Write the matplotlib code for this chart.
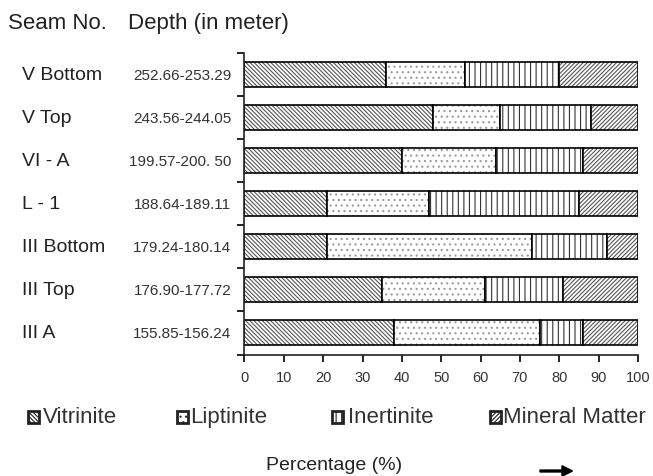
"""
Maceral composition of coal seams - stacked horizontal bars with hatch fills.
"""

import numpy as np
import matplotlib
matplotlib.use("Agg")
import matplotlib.pyplot as plt
import matplotlib.transforms as mtransforms
from matplotlib.patches import Rectangle, FancyArrow

plt.rcParams["font.family"] = ["Liberation Sans", "DejaVu Sans"]
plt.rcParams["hatch.linewidth"] = 0.8

SEAMS = ["V Bottom", "V Top", "VI - A", "L - 1", "III Bottom", "III Top", "III A"]
DEPTHS = ["252.66-253.29", "243.56-244.05", "199.57-200. 50", "188.64-189.11",
          "179.24-180.14", "176.90-177.72", "155.85-156.24"]

VITRINITE = [36, 48, 40, 21, 21, 35, 38]
LIPTINITE = [20, 17, 24, 26, 52, 26, 37]
INERTINITE = [24, 23, 22, 38, 19, 20, 11]
MINERAL = [20, 12, 14, 15, 8, 19, 14]

COMPONENTS = ["Vitrinite", "Liptinite", "Inertinite", "Mineral Matter"]
HATCHES = ["\\" * 8, "...", "|||", "/" * 8]
HATCH_COLORS = ["#555555", "#9a9a9a", "#333333", "#555555"]


def main():
    fig = plt.figure(figsize=(6.53, 4.77), dpi=100)
    ax = fig.add_axes([0.3744, 0.2547, 0.6026, 0.6321])

    y = np.arange(len(SEAMS))
    values = [VITRINITE, LIPTINITE, INERTINITE, MINERAL]
    left = np.zeros(len(SEAMS))
    for vals, hatch, hc in zip(values, HATCHES, HATCH_COLORS):
        vals = np.array(vals, dtype=float)
        # hatch layer (hatch colour follows edgecolor)
        ax.barh(y, vals, left=left, height=0.58, color="white",
                edgecolor=hc, hatch=hatch, linewidth=0)
        # black outline on top
        ax.barh(y, vals, left=left, height=0.58, fill=False,
                edgecolor="black", linewidth=1.2)
        left += vals

    ax.set_xlim(0, 100)
    ax.set_ylim(len(SEAMS) - 0.5, -0.5)
    ax.set_xticks(np.arange(0, 101, 10))
    ax.set_yticks(np.arange(-0.5, len(SEAMS), 1))
    ax.set_yticklabels([])
    ax.tick_params(axis="x", direction="out", length=5, width=1.2,
                   labelsize=10.5, labelcolor="#333333", pad=6)
    ax.tick_params(axis="y", direction="out", length=5, width=1.2)
    for side in ["top", "right"]:
        ax.spines[side].set_visible(False)
    for side in ["left", "bottom"]:
        ax.spines[side].set_linewidth(1.2)
        ax.spines[side].set_color("#222222")

    # row labels outside the axes
    trans = mtransforms.blended_transform_factory(fig.transFigure, ax.transData)
    for i, (seam, depth) in enumerate(zip(SEAMS, DEPTHS)):
        ax.text(0.034, i, seam, transform=trans, ha="left", va="center",
                fontsize=14, color="#222222")
        ax.text(0.354, i, depth, transform=trans, ha="right", va="center",
                fontsize=11, color="#333333")

    fig.text(0.013, 0.950, "Seam No.", fontsize=16, color="#222222",
             ha="left", va="center")
    fig.text(0.196, 0.950, "Depth (in meter)", fontsize=16, color="#222222",
             ha="left", va="center")

    # legend drawn by hand to keep the wide spacing
    W, H = 653.0, 477.0
    marker_x = [28, 177, 332, 490]
    text_x = [43, 190, 348, 503]
    ly = 418
    for name, hatch, mx, tx in zip(COMPONENTS, HATCHES, marker_x, text_x):
        fig.patches.append(Rectangle((mx / W, 1 - (ly + 6) / H), 11 / W, 12 / H,
                                     transform=fig.transFigure, facecolor="white",
                                     edgecolor="#222222", hatch=hatch,
                                     linewidth=2))
        fig.text(tx / W, 1 - ly / H, name, fontsize=16, color="#333333",
                 ha="left", va="center")

    fig.text(334 / W, 1 - 466 / H, "Percentage (%)", fontsize=14,
             color="#222222", ha="center", va="center")
    fig.patches.append(FancyArrow(540 / W, 1 - 472 / H, 22 / W, 0,
                                  width=0.004, head_width=0.022,
                                  head_length=0.016, color="black",
                                  transform=fig.transFigure))

    fig.savefig("out.png", dpi=100)
    plt.close(fig)


if __name__ == "__main__":
    main()
